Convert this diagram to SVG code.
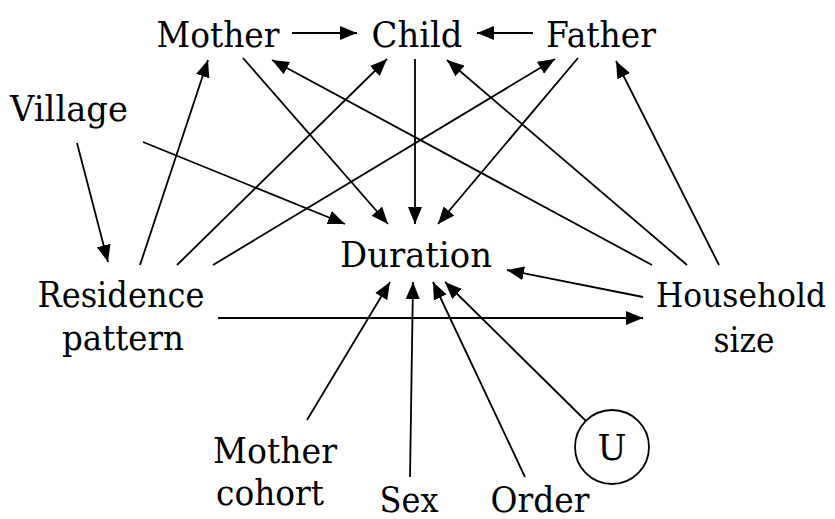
<svg xmlns="http://www.w3.org/2000/svg" width="835" height="519" viewBox="0 0 835 519">
<style>
  .lbl { font-family: "DejaVu Serif", "Liberation Serif", serif; font-size: 36px; fill: #000; text-anchor: middle; }
  .small { font-size: 33px; }
  .edge { stroke: #000; stroke-width: 1.8; fill: none; marker-end: url(#ah); }
  .ring { stroke: #000; stroke-width: 1.8; fill: #fff; }
</style>
<defs>
  <marker id="ah" viewBox="0 0 17 14" refX="17" refY="7" markerWidth="17" markerHeight="14" orient="auto" markerUnits="userSpaceOnUse">
    <path d="M0,0 L17,7 L0,14 Z" fill="#000"/>
  </marker>
</defs>
<rect width="835" height="519" fill="#fff"/>
<g id="connectors">
  <line class="edge" x1="292" y1="33" x2="357" y2="33"/>
  <line class="edge" x1="533" y1="33" x2="477" y2="33"/>
  <line class="edge" x1="243" y1="58" x2="388" y2="224"/>
  <line class="edge" x1="415" y1="59" x2="415" y2="224"/>
  <line class="edge" x1="578" y1="58" x2="438" y2="224"/>
  <line class="edge" x1="143" y1="142" x2="345" y2="224"/>
  <line class="edge" x1="77" y1="143" x2="108" y2="262"/>
  <line class="edge" x1="140" y1="265" x2="208" y2="60"/>
  <line class="edge" x1="177" y1="265" x2="387" y2="59"/>
  <line class="edge" x1="213" y1="265" x2="555" y2="59"/>
  <line class="edge" x1="218" y1="318" x2="643" y2="318"/>
  <line class="edge" x1="652" y1="265" x2="272" y2="60"/>
  <line class="edge" x1="687" y1="265" x2="447" y2="60"/>
  <line class="edge" x1="719" y1="265" x2="616" y2="61"/>
  <line class="edge" x1="643" y1="297" x2="507" y2="270"/>
  <line class="edge" x1="307" y1="420" x2="390" y2="282"/>
  <line class="edge" x1="410" y1="477" x2="413" y2="282"/>
  <line class="edge" x1="525" y1="477" x2="433" y2="282"/>
  <line class="edge" x1="587" y1="422" x2="445" y2="282"/>
</g>
<g id="mother"><text class="lbl" x="218" y="47" textLength="123" lengthAdjust="spacingAndGlyphs">Mother</text></g>
<g id="child"><text class="lbl" x="417" y="47" textLength="91" lengthAdjust="spacingAndGlyphs">Child</text></g>
<g id="father"><text class="lbl" x="601" y="47" textLength="110" lengthAdjust="spacingAndGlyphs">Father</text></g>
<g id="village"><text class="lbl" x="69" y="121" textLength="118" lengthAdjust="spacingAndGlyphs">Village</text></g>
<g id="duration"><text class="lbl" x="416" y="267" textLength="152" lengthAdjust="spacingAndGlyphs">Duration</text></g>
<g id="residence">
  <text class="lbl" x="121" y="307" textLength="167" lengthAdjust="spacingAndGlyphs">Residence</text>
  <text class="lbl" x="123" y="350" textLength="122" lengthAdjust="spacingAndGlyphs">pattern</text>
</g>
<g id="household">
  <text class="lbl small" x="741" y="307" textLength="170" lengthAdjust="spacingAndGlyphs">Household</text>
  <text class="lbl" x="744" y="352" textLength="61" lengthAdjust="spacingAndGlyphs">size</text>
</g>
<g id="mother-cohort">
  <text class="lbl" x="275" y="463" textLength="124" lengthAdjust="spacingAndGlyphs">Mother</text>
  <text class="lbl" x="270" y="505" textLength="108" lengthAdjust="spacingAndGlyphs">cohort</text>
</g>
<g id="sex"><text class="lbl" x="409" y="512" textLength="59" lengthAdjust="spacingAndGlyphs">Sex</text></g>
<g id="order"><text class="lbl" x="540" y="512" textLength="99" lengthAdjust="spacingAndGlyphs">Order</text></g>
<g id="u">
  <circle class="ring" cx="612" cy="447" r="37"/>
  <text class="lbl" x="612" y="460" textLength="29" lengthAdjust="spacingAndGlyphs">U</text>
</g>
</svg>
